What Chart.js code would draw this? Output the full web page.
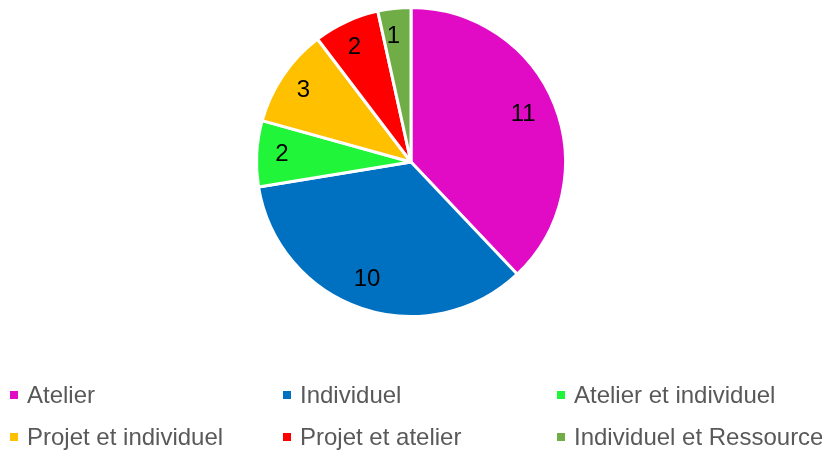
<!DOCTYPE html>
<html>
<head>
<meta charset="utf-8">
<script src="https://cdn.jsdelivr.net/npm/chart.js@4"></script>
<style>
body{margin:0;background:#fff;font-family:"Liberation Sans",Arial,sans-serif;}
#wrap{position:relative;width:822px;height:450px;}
#legende{position:absolute;left:0;top:376px;width:822px;}
.item{position:absolute;font-size:24px;color:#595959;white-space:nowrap;line-height:24px;}
.item span.carre{display:inline-block;width:8px;height:8px;margin-right:9px;vertical-align:middle;position:relative;top:-2px;}
</style>
</head>
<body>
<div id="wrap">
<canvas id="miGrafica" width="822" height="450"></canvas>
<div id="legende"></div>
</div>
<script>
var categorias = ["Atelier","Individuel","Atelier et individuel","Projet et individuel","Projet et atelier","Individuel et Ressource"];
var valores = [11,10,2,3,2,1];
var colores = ["#E10BC6","#0070C0","#21F53A","#FFC000","#FF0000","#70AD47"];

document.addEventListener("DOMContentLoaded",function(){
    grafica();
    leyenda();
})

// etiquetas dentro de cada sector
var etiquetas = {
    id:"etiquetas",
    afterDatasetsDraw:function(chart){
        var ctx = chart.ctx;
        var meta = chart.getDatasetMeta(0);
        ctx.save();
        ctx.font = "24px 'Liberation Sans', Arial, sans-serif";
        ctx.fillStyle = "#000";
        ctx.textAlign = "center";
        ctx.textBaseline = "middle";
        meta.data.forEach(function(arc,i){
            var a = (arc.startAngle+arc.endAngle)/2;
            var r = arc.outerRadius*0.81;
            ctx.fillText(String(valores[i]), arc.x+Math.cos(a)*r-4, arc.y+Math.sin(a)*r-1);
        });
        ctx.restore();
    }
};

function grafica(){
    let miCanvas=document.getElementById("miGrafica").getContext("2d");
    var chart = new Chart(miCanvas,{
        type:"pie",
        data:{
            labels:categorias,
            datasets:[{
                data:valores,
                backgroundColor:colores,
                borderColor:"#fff",
                borderWidth:3
            }]
        },
        options:{
            responsive:false,
            animation:false,
            layout:{padding:{top:6,bottom:132,left:0,right:0}},
            plugins:{legend:{display:false},tooltip:{enabled:false}}
        },
        plugins:[etiquetas]
    });
}

function leyenda(){
    var cont = document.getElementById("legende");
    var xs = [10,283,557];
    var ys = [7,49];
    categorias.forEach(function(c,i){
        var d = document.createElement("div");
        d.className = "item";
        d.style.left = xs[i%3]+"px";
        d.style.top = ys[Math.floor(i/3)]+"px";
        d.innerHTML = '<span class="carre" style="background:'+colores[i]+'"></span>'+c;
        cont.appendChild(d);
    });
}
</script>
</body>
</html>
